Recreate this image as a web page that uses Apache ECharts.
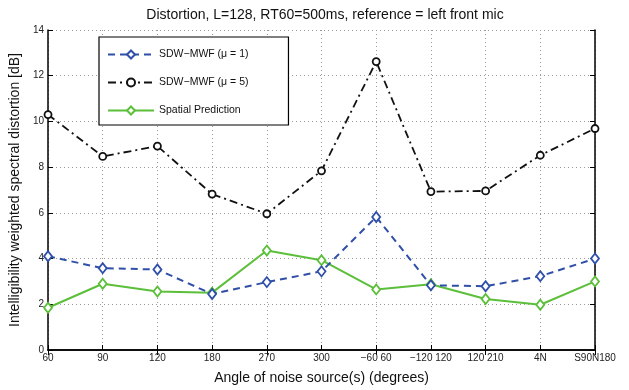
<!DOCTYPE html>
<html><head><meta charset="utf-8">
<script src="https://cdn.jsdelivr.net/npm/echarts@6/dist/echarts.min.js"></script>
<style>html,body{margin:0;padding:0;background:#fff}#c{width:629px;height:390px}</style>
</head><body><div id="c"></div>
<script>
var categories = ['60','90','120','180','270','300','\u221260 60','\u2212120 120','120 210','4N','S90N180'];
var sdwMu1 = [4.1, 3.58, 3.52, 2.45, 2.97, 3.44, 5.82, 2.83, 2.79, 3.23, 4.0];
var sdwMu5 = [10.3, 8.47, 8.92, 6.82, 5.96, 7.84, 12.62, 6.93, 6.96, 8.52, 9.69];
var spatial = [1.85, 2.9, 2.56, 2.51, 4.35, 3.93, 2.65, 2.88, 2.23, 1.98, 3.0];
var yTicks = [0, 2, 4, 6, 8, 10, 12, 14];

var FONT = 'Liberation Sans, Arial, sans-serif';
var chart = echarts.init(document.getElementById('c'));
var axisLine = {show: true, lineStyle: {color: '#000', width: 1.5}};
var splitDot = {show: true, lineStyle: {color: '#999', type: [1, 3], width: 1}};
chart.setOption({
  animation: false,
  title: {text: 'Distortion, L=128, RT60=500ms, reference = left front mic', left: 320, top: 3, textAlign: 'center',
    textStyle: {fontFamily: FONT, fontSize: 14, fontWeight: 'normal', color: '#111'}},
  grid: {left: 42, right: 34, top: 30, bottom: 32},
  legend: {
    orient: 'vertical', left: 99, top: 37,
    padding: [12, 40, 9, 8], itemGap: 17, itemWidth: 46, itemHeight: 10,
    borderColor: '#000', borderWidth: 1.2, backgroundColor: '#fff',
    textStyle: {fontFamily: FONT, fontSize: 10.5, color: '#111'},
    data: ['SDW\u2212MWF (\u03bc = 1)', 'SDW\u2212MWF (\u03bc = 5)', 'Spatial Prediction']
  },
  xAxis: [{
    type: 'category', data: categories, boundaryGap: false,
    name: 'Angle of noise source(s) (degrees)', nameLocation: 'middle', nameGap: 21,
    nameTextStyle: {fontFamily: FONT, fontSize: 14, color: '#111'},
    axisLine: axisLine, axisTick: {show: true, inside: true, length: 5, lineStyle: {color: '#000'}},
    axisLabel: {fontFamily: FONT, fontSize: 10, color: '#222', margin: 3, interval: 0},
    splitLine: splitDot
  }, {
    type: 'category', data: categories, boundaryGap: false, position: 'top',
    axisLine: axisLine, axisTick: {show: true, inside: true, length: 5, lineStyle: {color: '#000'}},
    axisLabel: {show: false}, splitLine: {show: false}
  }],
  yAxis: [{
    type: 'value', min: 0, max: 14, interval: 2,
    name: 'Intelligibility weighted spectral distortion [dB]', nameLocation: 'middle', nameGap: 22,
    nameTextStyle: {fontFamily: FONT, fontSize: 14, color: '#111'},
    axisLine: axisLine, axisTick: {show: true, inside: true, length: 5, lineStyle: {color: '#000'}},
    axisLabel: {fontFamily: FONT, fontSize: 10, color: '#222', margin: 4,
      formatter: function (v) { return yTicks.indexOf(v) >= 0 ? String(v) : ''; }},
    splitLine: splitDot
  }, {
    type: 'value', min: 0, max: 14, interval: 2, position: 'right',
    axisLine: axisLine, axisTick: {show: true, inside: true, length: 5, lineStyle: {color: '#000'}},
    axisLabel: {show: false}, splitLine: {show: false}
  }],
  series: [{
    name: 'SDW\u2212MWF (\u03bc = 1)', type: 'line', data: sdwMu1, z: 3,
    symbol: 'diamond', symbolSize: [8, 10],
    itemStyle: {color: '#fff', borderColor: '#2f4fa8', borderWidth: 1.8},
    lineStyle: {color: '#2f4fa8', width: 2, type: [7, 5]}
  }, {
    name: 'SDW\u2212MWF (\u03bc = 5)', type: 'line', data: sdwMu5, z: 3,
    symbol: 'circle', symbolSize: 7,
    itemStyle: {color: '#fff', borderColor: '#111', borderWidth: 1.8},
    lineStyle: {color: '#111', width: 1.8, type: [8, 4, 2, 4]}
  }, {
    name: 'Spatial Prediction', type: 'line', data: spatial, z: 2,
    symbol: 'diamond', symbolSize: [8, 10],
    itemStyle: {color: '#fff', borderColor: '#5bbf3a', borderWidth: 1.8},
    lineStyle: {color: '#5bbf3a', width: 2}
  }]
});
</script></body></html>
